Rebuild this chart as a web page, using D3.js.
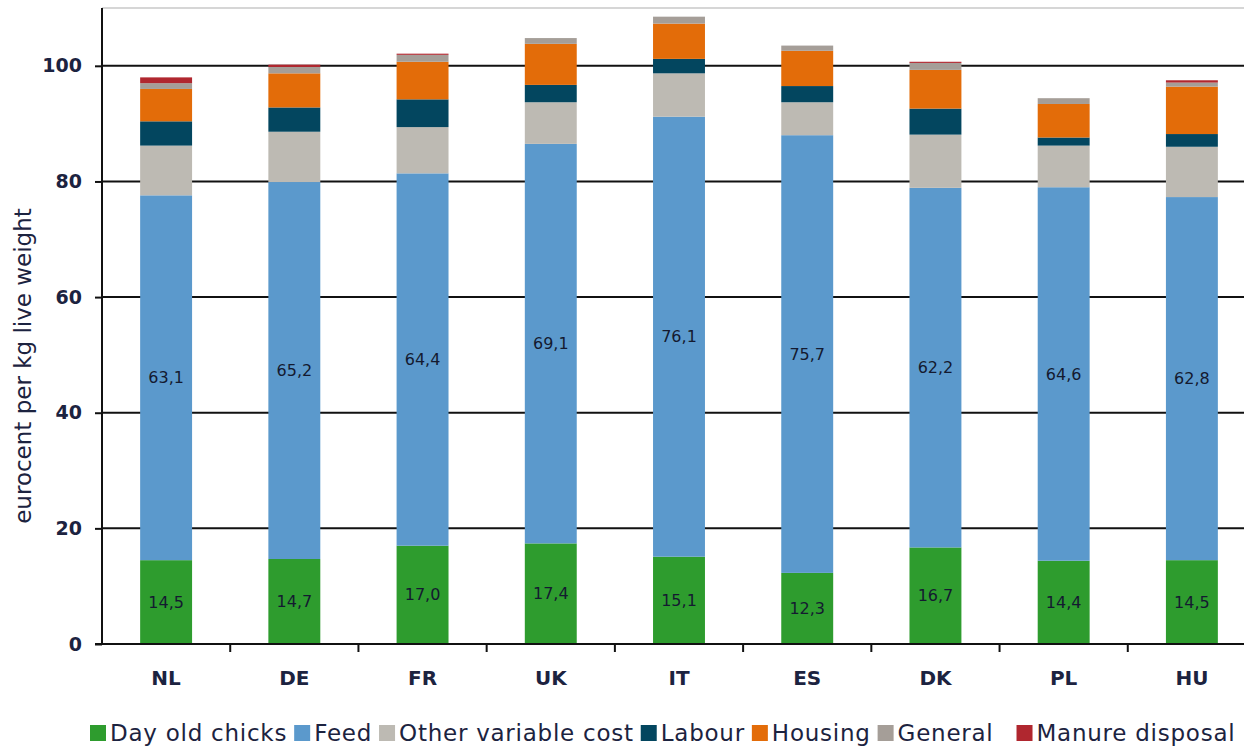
<!DOCTYPE html>
<html>
<head>
<meta charset="utf-8">
<script src="https://cdn.jsdelivr.net/npm/d3@7/dist/d3.min.js"></script>
<style>
  html, body { margin: 0; padding: 0; background: #fff; }
  svg { display: block; }
</style>
</head>
<body>
<svg id="chart" width="1244" height="747"></svg>
<script>
// Cost price of broilers by country, eurocent per kg live weight
const countries = ["NL", "DE", "FR", "UK", "IT", "ES", "DK", "PL", "HU"];
const seriesNames = ["Day old chicks", "Feed", "Other variable cost", "Labour", "Housing", "General", "Manure disposal"];
const seriesColors = ["#2e9c2e", "#5b99cc", "#bdbab3", "#03465f", "#e36c09", "#a59e98", "#b0272f"];

const dayOldChicks   = [14.5, 14.7, 17.0, 17.4, 15.1, 12.3, 16.7, 14.4, 14.5];
const feed           = [63.1, 65.2, 64.4, 69.1, 76.1, 75.7, 62.2, 64.6, 62.8];
const otherVariable  = [8.6, 8.7, 8.0, 7.2, 7.5, 5.7, 9.2, 7.2, 8.7];
const labour         = [4.2, 4.2, 4.8, 3.0, 2.5, 2.8, 4.5, 1.4, 2.2];
const housing        = [5.6, 5.9, 6.5, 7.1, 6.1, 6.1, 6.7, 5.8, 8.2];
const general        = [1.0, 1.1, 1.2, 1.0, 1.2, 0.9, 1.2, 1.0, 0.7];
const manureDisposal = [1.0, 0.4, 0.2, 0.0, 0.0, 0.0, 0.2, 0.0, 0.4];

const yTicks = [0, 20, 40, 60, 80, 100];
const labelledSeries = [0, 1]; // value labels on chicks and feed segments

const seriesValues = [dayOldChicks, feed, otherVariable, labour, housing, general, manureDisposal];

const rows = countries.map((c, i) => {
  const r = { country: c };
  seriesNames.forEach((s, k) => { r[s] = seriesValues[k][i]; });
  return r;
});
const stacked = d3.stack().keys(seriesNames)(rows);

const svg = d3.select("#chart");
const textColor = "#1c2340";
const fontFamily = "'DejaVu Sans', Verdana, sans-serif";

const x = d3.scaleBand().domain(countries).range([102, 1256]).paddingInner(0.595).paddingOuter(0.2975);
const y = d3.scaleLinear().domain([0, 110]).range([644, 8]);

// top border of the plot area
svg.append("line")
  .attr("x1", 102).attr("x2", 1244)
  .attr("y1", y(110)).attr("y2", y(110))
  .attr("stroke", "#c8c8c8").attr("stroke-width", 1.5);

// horizontal gridlines
svg.append("g")
  .selectAll("line")
  .data(yTicks.filter(t => t > 0))
  .join("line")
  .attr("x1", 102).attr("x2", 1244)
  .attr("y1", d => y(d)).attr("y2", d => y(d))
  .attr("stroke", "#111").attr("stroke-width", 2);

// stacked bars
svg.append("g")
  .selectAll("g")
  .data(stacked)
  .join("g")
  .attr("fill", (d, i) => seriesColors[i])
  .selectAll("rect")
  .data(d => d)
  .join("rect")
  .attr("x", d => x(d.data.country))
  .attr("width", x.bandwidth())
  .attr("y", d => y(d[1]))
  .attr("height", d => Math.max(0, y(d[0]) - y(d[1])));

// value labels inside segments
const labelG = svg.append("g")
  .attr("font-family", fontFamily)
  .attr("font-size", 16)
  .attr("fill", "#141a30")
  .attr("text-anchor", "middle");
labelledSeries.forEach(k => {
  labelG.selectAll(null)
    .data(stacked[k])
    .join("text")
    .attr("x", d => x(d.data.country) + x.bandwidth() / 2)
    .attr("y", d => y((d[0] + d[1]) / 2))
    .attr("dy", "0.35em")
    .text(d => d3.format(".1f")(d[1] - d[0]).replace(".", ","));
});

// y axis
const yAxis = svg.append("g")
  .attr("transform", "translate(102,0)")
  .call(d3.axisLeft(y).tickValues(yTicks).tickSize(7).tickPadding(13).tickFormat(d3.format("d")));
yAxis.select(".domain").remove();
yAxis.selectAll(".tick line").attr("stroke", "#111").attr("stroke-width", 2);
yAxis.selectAll(".tick text")
  .attr("font-family", fontFamily).attr("font-size", 19)
  .attr("font-weight", "bold").attr("fill", textColor);
svg.append("line")
  .attr("x1", 102).attr("x2", 102)
  .attr("y1", y(110)).attr("y2", y(0) + 1)
  .attr("stroke", "#111").attr("stroke-width", 2);

// x axis
svg.append("line")
  .attr("x1", 95).attr("x2", 1244)
  .attr("y1", y(0)).attr("y2", y(0))
  .attr("stroke", "#111").attr("stroke-width", 2);
const bandStep = x.step();
svg.append("g")
  .selectAll("line")
  .data(countries)
  .join("line")
  .attr("x1", d => x(d) + x.bandwidth() / 2 + bandStep / 2)
  .attr("x2", d => x(d) + x.bandwidth() / 2 + bandStep / 2)
  .attr("y1", y(0)).attr("y2", y(0) + 8)
  .attr("stroke", "#111").attr("stroke-width", 2);
svg.append("g")
  .selectAll("text")
  .data(countries)
  .join("text")
  .attr("x", d => x(d) + x.bandwidth() / 2)
  .attr("y", 685)
  .attr("text-anchor", "middle")
  .attr("font-family", fontFamily).attr("font-size", 20)
  .attr("font-weight", "bold")
  .attr("fill", textColor)
  .text(d => d);

// y axis title
svg.append("text")
  .attr("transform", "translate(31,366) rotate(-90)")
  .attr("text-anchor", "middle")
  .attr("font-family", fontFamily).attr("font-size", 23)
  .attr("fill", textColor)
  .text("eurocent per kg live weight");

// legend
const legend = svg.append("g").attr("transform", "translate(90,733)");
let lx = 0;
seriesNames.forEach((name, i) => {
  const item = legend.append("g").attr("transform", `translate(${lx},0)`);
  item.append("rect")
    .attr("x", 0).attr("y", -8).attr("width", 16).attr("height", 16)
    .attr("fill", seriesColors[i]);
  const t = item.append("text")
    .attr("x", 20).attr("y", 0).attr("dy", "0.36em")
    .attr("font-family", fontFamily)
    .attr("font-size", 23)
    .attr("letter-spacing", 0.75)
    .attr("fill", textColor)
    .text(name);
  lx += 20 + t.node().getComputedTextLength() + (name === "General" ? 23 : 7);
});
</script>
</body>
</html>
